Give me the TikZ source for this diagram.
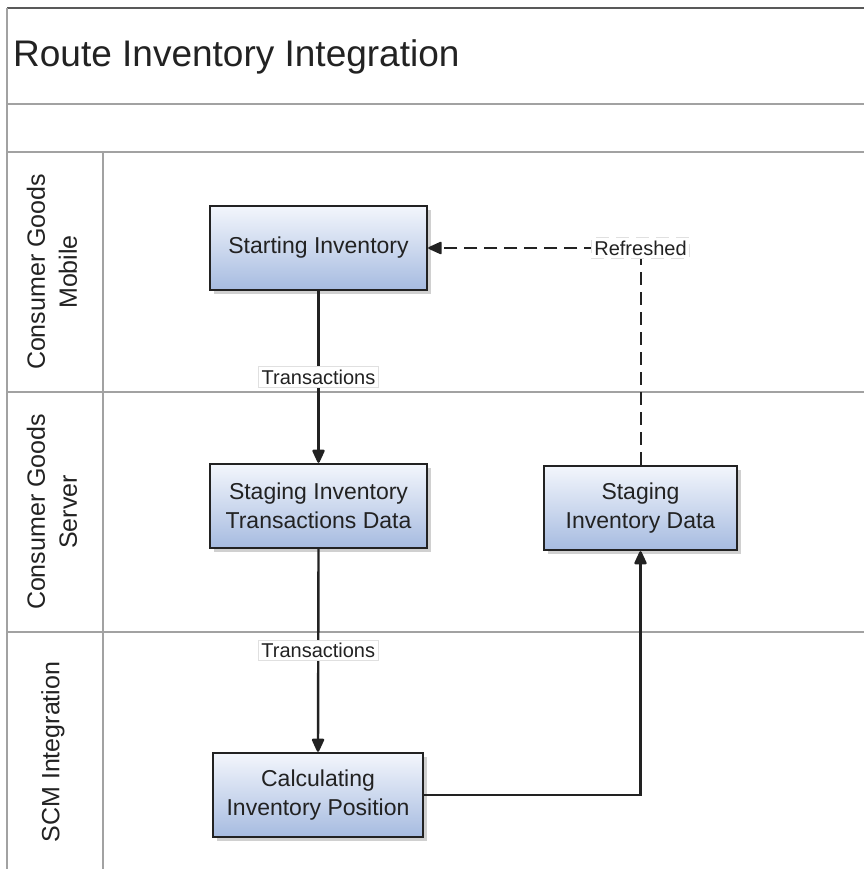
\documentclass[tikz,border=0pt]{standalone}
\usepackage{fontspec}
\setmainfont{Liberation Sans}
\usetikzlibrary{arrows.meta,shadows}
\definecolor{boxtop}{HTML}{F3F6FC}
\definecolor{boxbot}{HTML}{A6BBE0}
\definecolor{gridgray}{HTML}{A2A2A2}
\definecolor{inkdark}{HTML}{222222}
\begin{document}
\begin{tikzpicture}[x=1pt,y=-1pt,
  lane/.style={draw=gridgray,line width=1.5pt},
  procbox/.style={draw=inkdark,line width=2.4pt,top color=boxtop,bottom color=boxbot,
    minimum width=217pt,minimum height=84pt,inner sep=0pt,align=center,
    font=\fontsize{23}{29}\selectfont,text=inkdark,
    drop shadow={shadow xshift=4pt,shadow yshift=-4pt,fill=black!30,opacity=0.6}},
  flowlabel/.style={fill=white,draw=black!12,line width=0.8pt,
    font=\fontsize{20}{24}\selectfont,inner xsep=3pt,inner ysep=3pt,text=inkdark},
  flow/.style={draw=inkdark,line width=2.4pt,
    -{Triangle[length=15pt,width=13pt,round]}},
  lanetitle/.style={rotate=90,align=center,font=\fontsize{25}{32}\selectfont,text=inkdark}
]
\useasboundingbox (0,0) rectangle (864,869);
\fill[white] (0,0) rectangle (864,869);

% pool frame and lane dividers
\draw[lane,draw=black!65] (7,8) -- (864,8);
\draw[lane] (7,8) -- (7,869);
\draw[lane] (7,104) -- (864,104);
\draw[lane] (7,152) -- (864,152);
\draw[lane] (7,392) -- (864,392);
\draw[lane] (7,632) -- (864,632);
\draw[lane] (103,152) -- (103,869);

% pool title
\node[anchor=base west,font=\fontsize{37}{44}\selectfont,text=inkdark,inner sep=0pt]
  (title) at (13,67) {Route Inventory Integration};

% lane titles
\node[lanetitle] (lanemobile) at (52,272) {Consumer Goods\\Mobile};
\node[lanetitle] (laneserver) at (52,512) {Consumer Goods\\Server};
\node[lanetitle] (lanescm) at (53,752) {SCM Integration};

% process steps
\node[procbox] (start) at (318.5,248) {Starting Inventory};
\node[procbox] (stagetx) at (318.5,506) {Staging Inventory\\Transactions Data};
\node[procbox,minimum width=193pt] (stagedata) at (640.5,508) {Staging\\Inventory Data};
\node[procbox,minimum width=210pt] (calc) at (318,795) {Calculating\\Inventory Position};

% flows
\draw[flow] (start.south) -- node[flowlabel] (lbltx1) {Transactions} (stagetx.north);
\draw[flow] (stagetx.south) -- node[flowlabel] (lbltx2) {Transactions} (calc.north);
\draw[flow] (calc.east) -| (stagedata.south);
\draw[flow,line width=2pt,dash pattern=on 13pt off 7pt] (stagedata.north) |- node[flowlabel] (lblref) {Refreshed} (start.east);
\end{tikzpicture}
\end{document}
